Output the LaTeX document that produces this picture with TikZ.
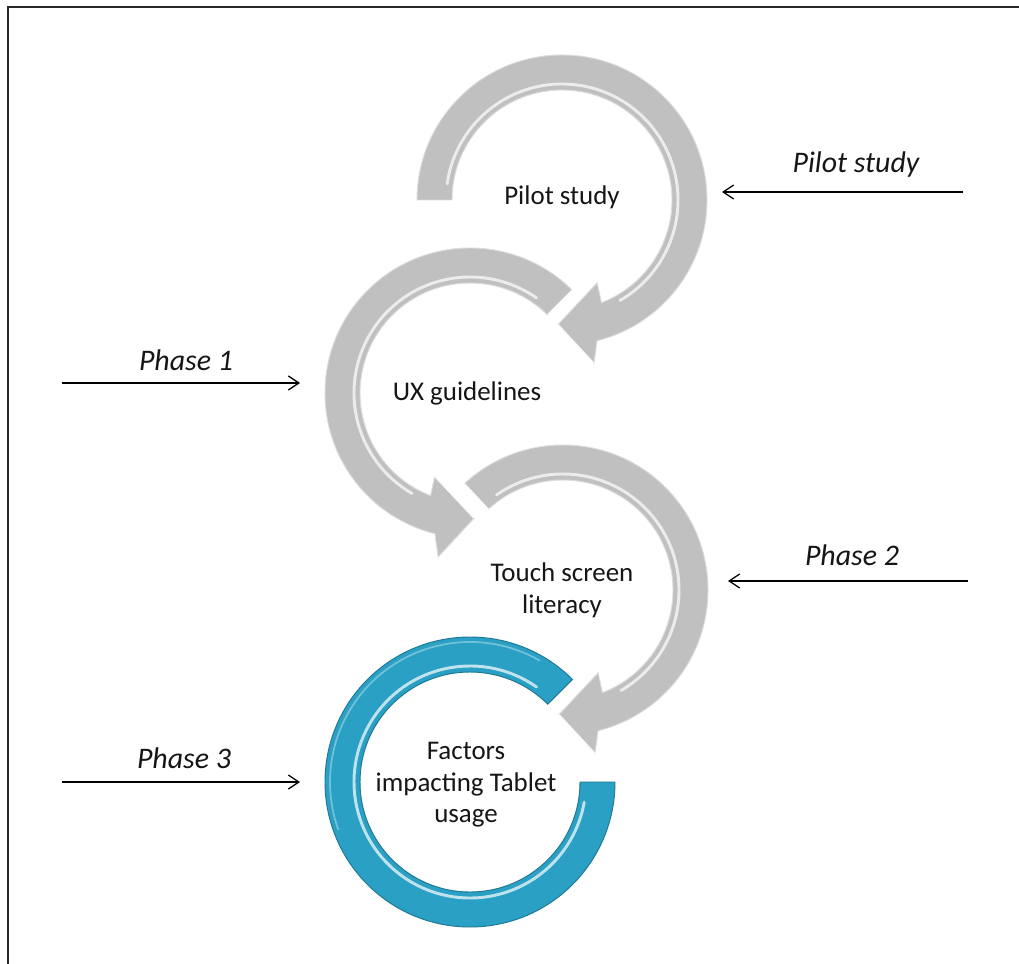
\documentclass[tikz,border=0pt]{standalone}
\usepackage{fontspec}
\setmainfont{Carlito}
\usetikzlibrary{arrows.meta,calc}
\definecolor{ringgray}{RGB}{192,192,192}
\definecolor{ringblue}{RGB}{41,160,196}
\definecolor{txt}{RGB}{22,22,22}
\begin{document}
\begin{tikzpicture}[x=0.03cm,y=0.03cm,
 ringtext/.style={font=\fontsize{23}{27}\selectfont, text=txt, align=center},
 phasetext/.style={font=\fontsize{25.5}{30}\selectfont\itshape, text=txt},
 phasearrow/.style={draw=black, line width=1.2pt, -{Straight Barb[length=9pt,width=12pt,line width=1.1pt]}},
 grayring/.style={fill=ringgray, draw=ringgray!55!white, line width=0.8pt},
 bluering/.style={fill=ringblue, draw=ringblue!75!black, line width=0.8pt},
 hilite/.style={draw=white, line width=2.5pt, opacity=0.7, line cap=round},
 bevel/.style={draw=white, line width=2pt, opacity=0.9}]

\fill[white] (0,0) rectangle (1019,-964);
\useasboundingbox (0,0) rectangle (1019,-964);
\draw[line width=1.8pt, black!85] (1019,-7) -- (8,-7) -- (8,-964);

% blue ring
\begin{scope}[shift={(470,-782)}]
\path[bluering] (45:145) arc[start angle=45,end angle=360,radius=145] -- (0:110) arc[start angle=360,end angle=45,radius=110] -- cycle;
\draw[hilite] (55:116) arc[start angle=55,end angle=350,radius=116];
\draw[draw=white,line width=1.5pt,opacity=0.35] (60:140) arc[start angle=60,end angle=200,radius=140];
\end{scope}

% arrow 3
\begin{scope}[shift={(563,-590)}]
\path[grayring] (133:145) arc[start angle=133,end angle=-76,radius=145] -- (-79:167) -- (-92:125) -- (-67:90) -- (-69:110) arc[start angle=-69,end angle=133,radius=110] -- cycle;
\draw[hilite] (125:116) arc[start angle=125,end angle=-60,radius=116];
\draw[bevel] (-79:167) -- (-92:125);
\draw[bevel] (133:145) -- (133:110);
\end{scope}

% arrow 2
\begin{scope}[shift={(470,-393)}]
\path[grayring] (45:145) arc[start angle=45,end angle=256,radius=145] -- (259:167) -- (272:125) -- (247:90) -- (249:110) arc[start angle=249,end angle=45,radius=110] -- cycle;
\draw[hilite] (55:116) arc[start angle=55,end angle=240,radius=116];
\draw[bevel] (247:90) -- (272:125);
\draw[bevel] (45:145) -- (45:110);
\end{scope}

% arrow 1
\begin{scope}[shift={(562,-200)}]
\path[grayring] (180:145) arc[start angle=180,end angle=-76,radius=145] -- (-79:167) -- (-92:125) -- (-67:90) -- (-69:110) arc[start angle=-69,end angle=180,radius=110] -- cycle;
\draw[hilite] (172:116) arc[start angle=172,end angle=-60,radius=116];
\draw[bevel] (-79:167) -- (-92:125);
\end{scope}

% ring texts
\node[ringtext] (t1) at (562,-197) {Pilot study};
\node[ringtext] (t2) at (467,-393) {UX guidelines};
\node[ringtext] (t3) at (562,-590) {Touch screen\\literacy};
\node[ringtext] (t4) at (466,-785) {Factors\\impacting Tablet\\usage};

% phase labels
\node[phasetext] (p0) at (856,-165) {Pilot study};
\coordinate (p0s) at (963,-192); \coordinate (p0e) at (722,-192);
\draw[phasearrow] (p0s) -- (p0e);

\node[phasetext] (p1) at (186,-360) {Phase 1};
\coordinate (p1s) at (62,-383); \coordinate (p1e) at (300,-383);
\draw[phasearrow] (p1s) -- (p1e);

\node[phasetext] (p2) at (852,-555) {Phase 2};
\coordinate (p2s) at (968,-581); \coordinate (p2e) at (728,-581);
\draw[phasearrow] (p2s) -- (p2e);

\node[phasetext] (p3) at (184,-758) {Phase 3};
\coordinate (p3s) at (62,-782); \coordinate (p3e) at (300,-782);
\draw[phasearrow] (p3s) -- (p3e);
\end{tikzpicture}
\end{document}
